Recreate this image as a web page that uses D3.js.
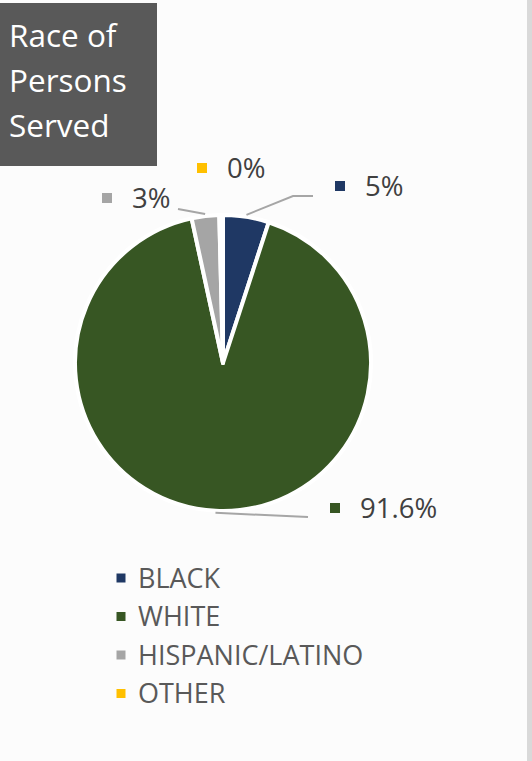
<!DOCTYPE html>
<html>
<head>
<meta charset="utf-8">
<script src="https://cdn.jsdelivr.net/npm/d3@7"></script>
<style>
  html, body { margin: 0; padding: 0; background: #fcfcfc; }
  svg { display: block; }
</style>
</head>
<body>
<div id="chart"></div>
<script>
var categories = ["BLACK", "WHITE", "HISPANIC/LATINO", "OTHER"]
var values = [5, 91.6, 3, 0.4]
var pctLabels = ["5%", "91.6%", "3%", "0%"]
var colors = ["#1f3864", "#375623", "#a5a5a5", "#ffc000"]
var titleLines = ["Race of", "Persons", "Served"]

var width = 532
var height = 761
var cx = 223, cy = 363, radius = 148

var svg = d3.select("#chart")
    .append("svg")
    .attr("width", width)
    .attr("height", height)

// right edge strip
svg.append("rect")
    .attr("x", 527).attr("y", 0)
    .attr("width", 5).attr("height", height)
    .style("fill", "#d9d9d9")

// title box
svg.append("rect")
    .attr("x", 0).attr("y", 3)
    .attr("width", 157).attr("height", 163)
    .style("fill", "#595959")

svg.selectAll(".title")
    .data(titleLines)
    .enter()
    .append("text")
    .attr("class", "title")
    .attr("x", 9)
    .attr("y", (d, i) => 47 + i * 45)
    .style("font-family", "'Open Sans', sans-serif")
    .style("font-size", "31.5px")
    .style("fill", "#ffffff")
    .text(d => d)

var pie = d3.pie().sort(null).value(d => d)
var arcs = pie(values)

var arc = d3.arc().innerRadius(0).outerRadius(radius)
var edgeArc = d3.arc().innerRadius(radius + 2).outerRadius(radius + 2)

var g = svg.append("g")
    .attr("transform", `translate(${cx}, ${cy})`)

g.selectAll("path")
    .data(arcs)
    .enter()
    .append("path")
    .attr("d", arc)
    .style("fill", (d, i) => colors[i])
    .style("stroke", "#ffffff")
    .style("stroke-width", 4)
    .style("stroke-linejoin", "round")

// data labels: square position, and leader line path (null = no leader)
var labelPos = [
    { sx: 340, sy: 186, elbow: [[293, 196], [313, 196]] },
    { sx: 335, sy: 508, elbow: [[308, 517]] },
    { sx: 107, sy: 198, elbow: [[178, 209]] },
    { sx: 202, sy: 168, elbow: null }
]

arcs.forEach(function (d, i) {
    var p = labelPos[i]
    if (p.elbow) {
        var c = edgeArc.centroid(d)
        var pts = [[cx + c[0], cy + c[1]]].concat(p.elbow)
        svg.append("path")
            .attr("d", d3.line()(pts))
            .style("fill", "none")
            .style("stroke", "#a6a6a6")
            .style("stroke-width", 2)
    }
    svg.append("rect")
        .attr("x", p.sx - 5).attr("y", p.sy - 5)
        .attr("width", 10).attr("height", 10)
        .style("fill", colors[i])
    svg.append("text")
        .attr("x", p.sx + 25)
        .attr("y", p.sy)
        .attr("dy", "0.36em")
        .style("font-family", "'Open Sans', sans-serif")
        .style("font-size", "27.5px")
        .style("fill", "#404040")
        .text(pctLabels[i])
})

// legend
var legend = svg.selectAll(".legend")
    .data(categories)
    .enter()
    .append("g")
    .attr("class", "legend")
    .attr("transform", (d, i) => `translate(121, ${578 + i * 38.5})`)

legend.append("rect")
    .attr("x", -4.5).attr("y", -4.5)
    .attr("width", 9).attr("height", 9)
    .style("fill", (d, i) => colors[i])

legend.append("text")
    .attr("x", 17)
    .attr("dy", "0.36em")
    .style("font-family", "'Open Sans', sans-serif")
    .style("font-size", "27px")
    .style("fill", "#595959")
    .text(d => d)
</script>
</body>
</html>
